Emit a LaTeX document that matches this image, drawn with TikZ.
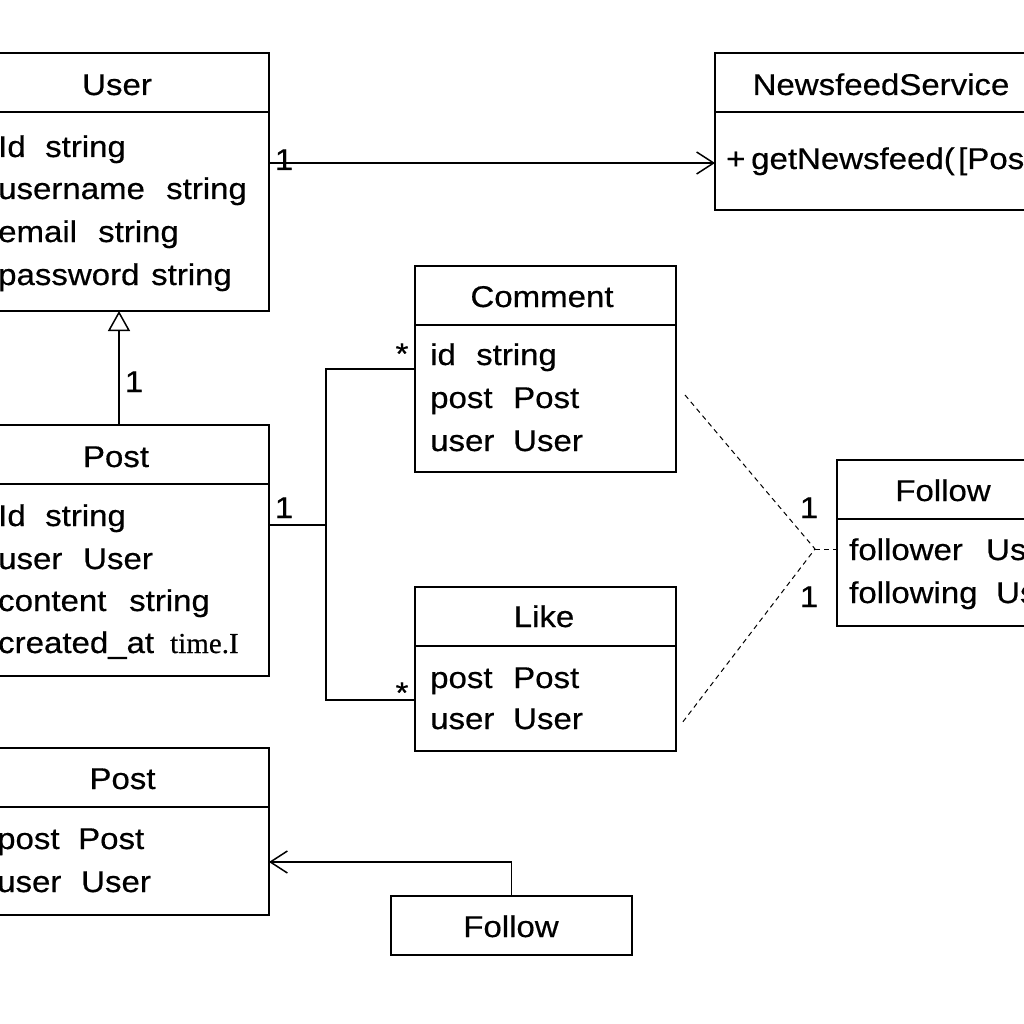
\documentclass[tikz,border=0pt]{standalone}
\usepackage{fontspec}
\setmainfont{Liberation Sans}[FakeStretch=1.1,FakeBold=0.5]
\newfontfamily\serifx{Liberation Serif}[FakeBold=0.4]
\usetikzlibrary{arrows.meta}
\newcommand\attrrow[3]{\makebox[#1pt][l]{#2}#3}
\begin{document}
\begin{tikzpicture}[x=1pt,y=-1pt,
  font=\fontsize{30}{36}\selectfont,
  umlbox/.style={draw,line width=2pt,inner sep=0pt,outer sep=0pt},
  hdr/.style={line width=2pt},
  ttl/.style={anchor=base,inner sep=0pt},
  attr/.style={anchor=base west,inner sep=0pt},
  lbl/.style={anchor=base,inner sep=0pt},
  conn/.style={line width=1.5pt},
  dep/.style={line width=1pt,dash pattern=on 5pt off 4pt},
  openarrow/.style={-{Straight Barb[length=17pt,width=22pt,line width=1.5pt]}},
  genarrow/.style={-{Triangle[open,length=20pt,width=22pt,line width=1.5pt]}}]
\useasboundingbox (0,0) rectangle (1024,1024);
\clip (0,0) rectangle (1024,1024);
\fill[white] (0,0) rectangle (1024,1024);

% ---- User
\node[umlbox,minimum width=304pt,minimum height=258pt] (user) at (117,182) {};
\draw[hdr] (user.west |- 0,112) -- (user.east |- 0,112);
\node[ttl] (userT) at (117,95) {User};
\node[attr] (userA1) at (-2,157) {\attrrow{47}{Id}{string}};
\node[attr] (userA2) at (-2,199) {\attrrow{168}{username}{string}};
\node[attr] (userA3) at (-2,242) {\attrrow{100}{email}{string}};
\node[attr] (userA4) at (-2,285) {\attrrow{153}{password}{string}};

% ---- NewsfeedService
\node[umlbox,minimum width=332pt,minimum height=157pt] (news) at (881,131.5) {};
\draw[hdr] (news.west |- 0,112) -- (news.east |- 0,112);
\node[ttl] (newsT) at (881,95) {NewsfeedService};
\node[attr] (newsA1) at (726,169) {\attrrow{25}{+}{}\attrrow{207}{getNewsfeed(}{[Post}};

% ---- Comment
\node[umlbox,minimum width=261pt,minimum height=206pt] (comment) at (545.5,369) {};
\draw[hdr] (comment.west |- 0,325) -- (comment.east |- 0,325);
\node[ttl] (commentT) at (542,307) {Comment};
\node[attr] (commentA1) at (430,365) {\attrrow{46}{id}{string}};
\node[attr] (commentA2) at (430,408) {\attrrow{83}{post}{Post}};
\node[attr] (commentA3) at (430,451) {\attrrow{83}{user}{User}};

% ---- Post (middle)
\node[umlbox,minimum width=306pt,minimum height=251pt] (post1) at (116,550.5) {};
\draw[hdr] (post1.west |- 0,484) -- (post1.east |- 0,484);
\node[ttl] (post1T) at (116,467) {Post};
\node[attr] (post1A1) at (-2,526) {\attrrow{47}{Id}{string}};
\node[attr] (post1A2) at (-2,569) {\attrrow{85}{user}{User}};
\node[attr] (post1A3) at (-2,611) {\attrrow{131}{content}{string}};
\node[attr] (post1A4) at (-2,653) {\attrrow{172}{created\_at}{{\serifx\fontsize{29}{34}\selectfont time.I}}};

% ---- Like
\node[umlbox,minimum width=261pt,minimum height=164pt] (like) at (545.5,669) {};
\draw[hdr] (like.west |- 0,646) -- (like.east |- 0,646);
\node[ttl] (likeT) at (544,627) {Like};
\node[attr] (likeA1) at (430,688) {\attrrow{83}{post}{Post}};
\node[attr] (likeA2) at (430,729) {\attrrow{83}{user}{User}};

% ---- Follow (right)
\node[umlbox,minimum width=212pt,minimum height=166pt] (follow1) at (943,543) {};
\draw[hdr] (follow1.west |- 0,519) -- (follow1.east |- 0,519);
\node[ttl] (follow1T) at (943,501) {Follow};
\node[attr] (follow1A1) at (849,560) {\attrrow{137}{follower}{Us}};
\node[attr] (follow1A2) at (849,603) {\attrrow{147}{following}{Us}};

% ---- Post (bottom)
\node[umlbox,minimum width=292pt,minimum height=167pt] (post2) at (123,831) {};
\draw[hdr] (post2.west |- 0,807) -- (post2.east |- 0,807);
\node[ttl] (post2T) at (122.5,789) {Post};
\node[attr] (post2A1) at (-3,849) {\attrrow{81}{post}{Post}};
\node[attr] (post2A2) at (-3,892) {\attrrow{84}{user}{User}};

% ---- Follow (bottom)
\node[umlbox,minimum width=241pt,minimum height=59pt] (follow2) at (511.5,925.5) {};
\node[ttl] (follow2T) at (511,937) {Follow};

% ---- connectors
\draw[conn,openarrow] (user.east |- 0,163) -- (news.west |- 0,163);
\node[lbl] (l1) at (284,170) {1};

\draw[conn,genarrow] (post1.north -| 119,0) -- (user.south -| 119,0);
\node[lbl] (l2) at (134,392) {1};

\coordinate (j) at (326,525);
\coordinate (jt) at (326,369);
\coordinate (jb) at (326,700);
\draw[conn] (post1.east |- j) -- (j);
\draw[conn] (comment.west |- jt) -- (jt) -- (jb) -- (like.west |- jb);
\node[lbl] (l3) at (284,518) {1};
\node[lbl] (s1) at (402,364) {*};
\node[lbl] (s2) at (402,703) {*};

\coordinate (dA) at (685,395);
\coordinate (dB) at (682,723);
\coordinate (dJ) at (815,549);
\draw[dep] (dA) -- (dJ) -- (dB);
\draw[dep] (dJ) -- (follow1.west |- dJ);
\node[lbl] (l4) at (809,518) {1};
\node[lbl] (l5) at (809,607) {1};

\draw[conn,openarrow] (follow2.north) |- (post2.east |- 0,862);
\end{tikzpicture}
\end{document}
